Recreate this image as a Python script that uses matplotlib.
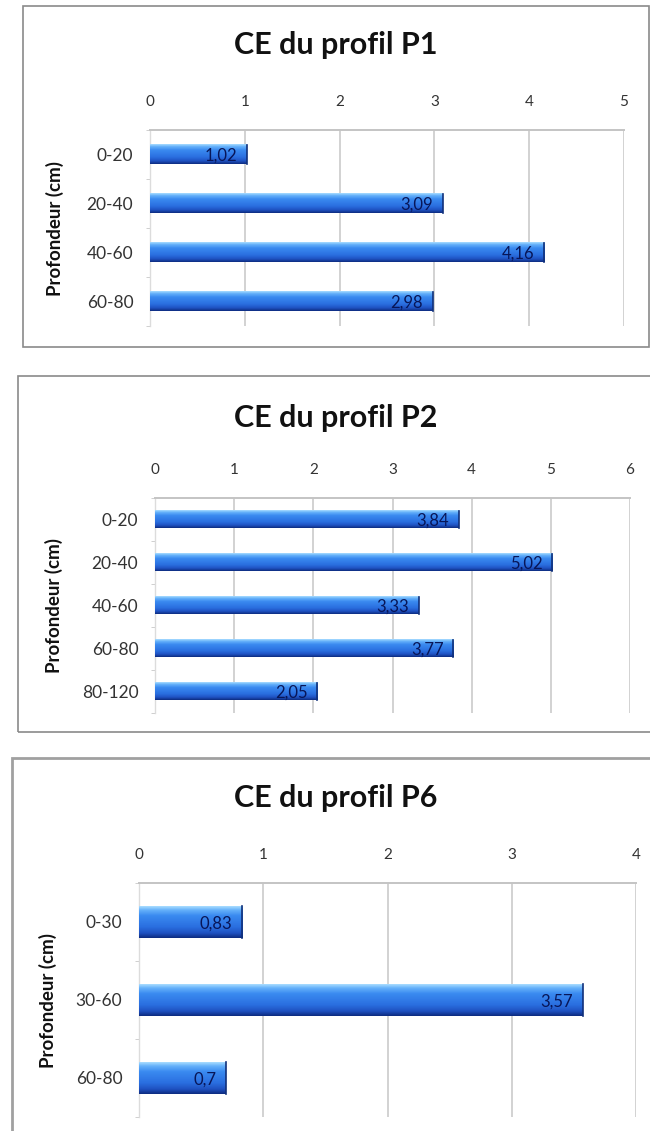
import numpy as np
import matplotlib
matplotlib.use("Agg")
import matplotlib.pyplot as plt
from matplotlib.colors import LinearSegmentedColormap
from matplotlib.patches import Rectangle

plt.rcParams['font.family'] = ['Lato', 'DejaVu Sans']

# conductivite electrique par horizon
p1_depths = ['0-20', '20-40', '40-60', '60-80']
p1_ce = [1.02, 3.09, 4.16, 2.98]

p2_depths = ['0-20', '20-40', '40-60', '60-80', '80-120']
p2_ce = [3.84, 5.02, 3.33, 3.77, 2.05]

p6_depths = ['0-30', '30-60', '60-80']
p6_ce = [0.83, 3.57, 0.7]

titles = ['CE du profil P1', 'CE du profil P2', 'CE du profil P6']
xmax = [5, 6, 4]

W, H = 650, 1131
fig = plt.figure(figsize=(W / 100, H / 100), dpi=100)

bar_cmap = LinearSegmentedColormap.from_list('bar', [
    (0.00, '#a8dcff'), (0.12, '#64b0fa'), (0.30, '#3a8af0'),
    (0.65, '#2a6fe0'), (0.85, '#1f52c2'), (1.00, '#0d2c80')])
grad = np.linspace(0, 1, 64).reshape(-1, 1)


def px(x0, y0, x1, y1):
    # pixel box (top-left origin) -> figure fraction rect
    return [x0 / W, 1 - y1 / H, (x1 - x0) / W, (y1 - y0) / H]


def draw(ax, depths, vals, title, xm, ylab_x, tx, ty):
    n = len(depths)
    ax.set_xlim(0, xm)
    ax.set_ylim(n, 0)
    hb = 0.4
    for i, v in enumerate(vals):
        yc = i + 0.5
        ax.imshow(grad, cmap=bar_cmap, aspect='auto', interpolation='bilinear',
                  extent=(0, v, yc + hb / 2, yc - hb / 2), zorder=3)
        ax.plot([v, v], [yc - hb / 2, yc + hb / 2], color='#10307a', lw=1.2, zorder=4)
        ax.annotate(f'{v:g}'.replace('.', ','), (v, yc), xytext=(-7, -1),
                    textcoords='offset points', ha='right', va='center',
                    fontsize=12, color='#081658', zorder=5)
    ax.set_xticks(range(xm + 1))
    ax.xaxis.tick_top()
    ax.tick_params(axis='x', length=0, pad=15, labelsize=11, colors='#333333')
    ax.set_yticks([i + 0.5 for i in range(n)])
    ax.set_yticklabels(depths)
    ax.set_yticks(range(n + 1), minor=True)
    ax.tick_params(axis='y', which='major', length=0, pad=12, labelsize=12.5, labelcolor='#333333')
    ax.tick_params(axis='y', which='minor', length=3, color='#c8c8c8')
    ax.grid(axis='x', color='#d2d2d2', lw=1.4, zorder=0)
    ax.set_axisbelow(True)
    for s in ['right', 'bottom']:
        ax.spines[s].set_visible(False)
    ax.spines['top'].set_color('#c4c4c4')
    ax.spines['top'].set_linewidth(1.4)
    ax.spines['left'].set_color('#dcdcdc')
    ax.spines['left'].set_linewidth(1.0)
    ax.set_ylabel('Profondeur (cm)', fontsize=13.5, fontweight='bold', color='#111111')
    ax.yaxis.set_label_coords(ylab_x, 0.5)
    fig.text(tx / W, 1 - ty / H, title, ha='center', va='center',
             fontsize=22, fontweight='bold', color='#111111')


# cadres des graphiques
for (x0, y0, x1, y1), lw, col in [((23, 6, 649, 347), 1.2, '#8a8a8a'),
                                  ((18, 376, 652, 732), 1.2, '#8a8a8a'),
                                  ((12, 758, 652, 1140), 2.0, '#a0a0a0')]:
    r = px(x0, y0, x1, y1)
    fig.patches.append(Rectangle((r[0], r[1]), r[2], r[3], transform=fig.transFigure,
                                 fill=False, edgecolor=col, lw=lw))

ax1 = fig.add_axes(px(150, 130, 624, 326))
draw(ax1, p1_depths, p1_ce, titles[0], xmax[0], -0.181, 336, 45)

ax2 = fig.add_axes(px(155, 498, 630, 713))
draw(ax2, p2_depths, p2_ce, titles[1], xmax[1], -0.194, 336, 418)

ax3 = fig.add_axes(px(139, 883, 636, 1117))
draw(ax3, p6_depths, p6_ce, titles[2], xmax[2], -0.165, 336, 798)

fig.savefig('out.png', dpi=100, facecolor='white')
